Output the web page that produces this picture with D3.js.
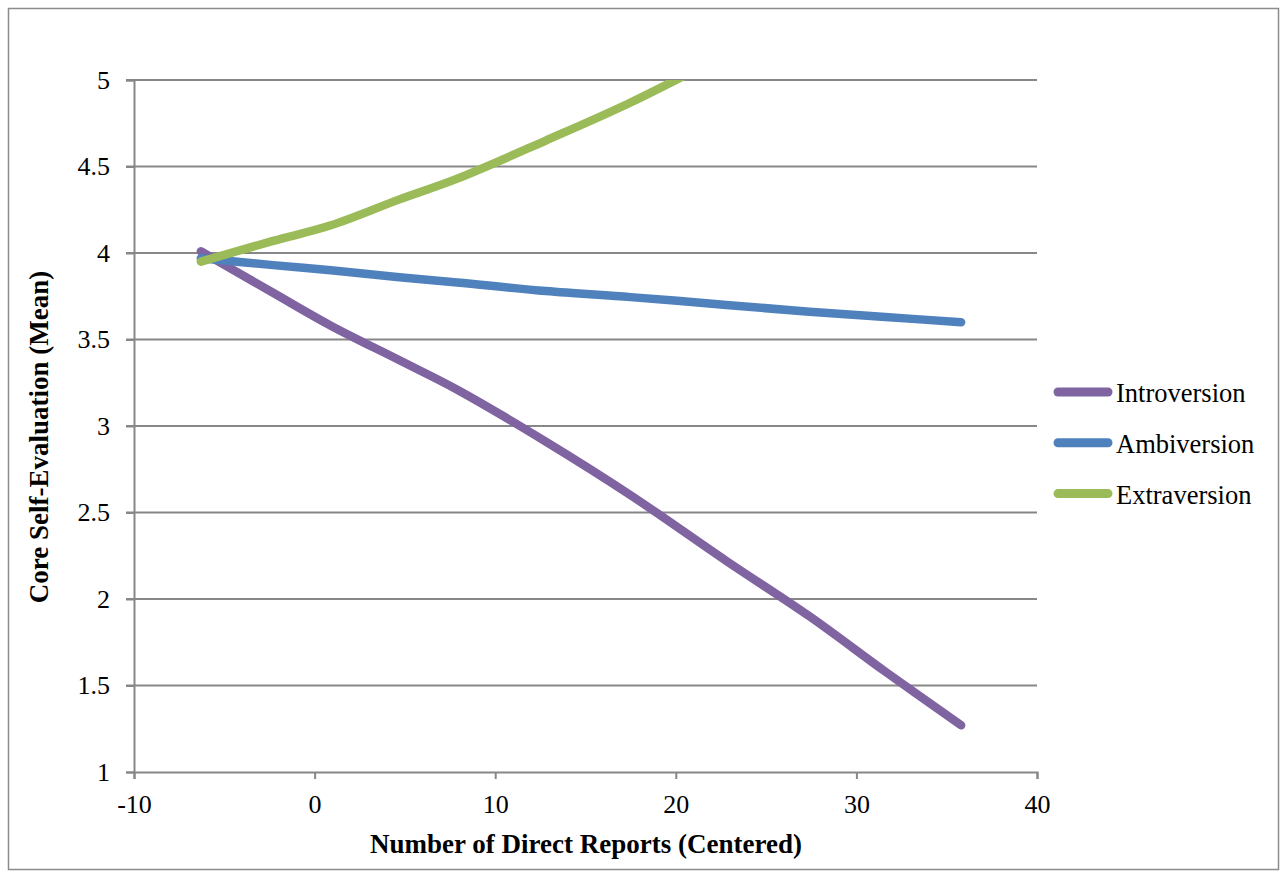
<!DOCTYPE html>
<html>
<head>
<meta charset="utf-8">
<script src="https://cdn.jsdelivr.net/npm/d3@7"></script>
<style>
html,body{margin:0;padding:0;background:#fff;}
svg{display:block;}
text{font-family:"Liberation Serif","Times New Roman",serif;fill:#000;}
</style>
</head>
<body>
<svg id="chart" width="1286" height="871"></svg>
<script>
// ---- data ----
const xValues = [-6.3, -2.3, 0.9, 4.7, 7.9, 12.8, 17.5, 22.8, 27.4, 31.6, 35.8];
const introversion = [4.01, 3.77, 3.58, 3.38, 3.21, 2.91, 2.60, 2.22, 1.90, 1.58, 1.27];
const ambiversion  = [3.97, 3.93, 3.90, 3.86, 3.83, 3.78, 3.745, 3.70, 3.66, 3.63, 3.60];
const extraversion = [3.95, 4.07, 4.16, 4.31, 4.43, 4.65, 4.87, 5.15, 5.40, 5.65, 5.90];
const seriesNames = ["Introversion", "Ambiversion", "Extraversion"];
const seriesColors = ["#8064A2", "#4F81BD", "#9BBB59"];
const xTicks = [-10, 0, 10, 20, 30, 40];
const yTicks = [1, 1.5, 2, 2.5, 3, 3.5, 4, 4.5, 5];
const xTitle = "Number of Direct Reports (Centered)";
const yTitle = "Core Self-Evaluation (Mean)";

const seriesData = [introversion, ambiversion, extraversion];

(function () {
const svg = d3.select("#chart");
const pLeft = 134, pRight = 1037, pTop = 80, pBottom = 772;
const x = d3.scaleLinear().domain([-10, 40]).range([pLeft, pRight]);
const y = d3.scaleLinear().domain([1, 5]).range([pBottom, pTop]);
const gridColor = "#878787";

// outer border
svg.append("rect").attr("x", 8.5).attr("y", 8.5).attr("width", 1270).attr("height", 861)
  .attr("fill", "none").attr("stroke", "#8c8c8c").attr("stroke-width", 1.5);

// gridlines
svg.append("g").selectAll("line").data(yTicks.filter(d => d !== 1)).join("line")
  .attr("x1", pLeft - 8).attr("x2", pRight)
  .attr("y1", d => y(d)).attr("y2", d => y(d))
  .attr("stroke", gridColor).attr("stroke-width", 2);

// y axis
const yAxis = d3.axisLeft(y).tickValues(yTicks).tickSize(8).tickPadding(16)
  .tickFormat(d => String(d));
const gy = svg.append("g").attr("transform", `translate(${pLeft},0)`).call(yAxis);
gy.select(".domain").attr("stroke", gridColor).attr("stroke-width", 2);
gy.selectAll(".tick line").attr("stroke", gridColor).attr("stroke-width", 2);
gy.selectAll(".tick text").attr("font-size", 26).attr("font-family", "Liberation Serif").attr("fill", "#000");

// x axis
const xAxis = d3.axisBottom(x).tickValues(xTicks).tickSize(7).tickPadding(16)
  .tickFormat(d => String(d));
const gx = svg.append("g").attr("transform", `translate(0,${pBottom})`).call(xAxis);
gx.select(".domain").attr("stroke", gridColor).attr("stroke-width", 2);
gx.selectAll(".tick line").attr("stroke", gridColor).attr("stroke-width", 2);
gx.selectAll(".tick text").attr("font-size", 26).attr("font-family", "Liberation Serif").attr("fill", "#000");

// clip
svg.append("clipPath").attr("id", "plotClip").append("rect")
  .attr("x", pLeft - 10).attr("y", pTop).attr("width", pRight - pLeft + 20).attr("height", pBottom - pTop + 10);

// lines
const line = d3.line().x(d => x(d[0])).y(d => y(d[1])).curve(d3.curveCatmullRom.alpha(0.5));
const gLines = svg.append("g").attr("clip-path", "url(#plotClip)");
seriesData.forEach((vals, i) => {
  gLines.append("path")
    .datum(xValues.map((xv, j) => [xv, vals[j]]))
    .attr("d", line)
    .attr("fill", "none")
    .attr("stroke", seriesColors[i])
    .attr("stroke-width", 8.5)
    .attr("stroke-linecap", "round")
    .attr("stroke-linejoin", "round");
});

// legend
const legend = svg.append("g");
seriesNames.forEach((name, i) => {
  const ly = 392 + i * 50.8;
  legend.append("line").attr("x1", 1058).attr("x2", 1108).attr("y1", ly).attr("y2", ly)
    .attr("stroke", seriesColors[i]).attr("stroke-width", 9).attr("stroke-linecap", "round");
  legend.append("text").attr("x", 1116).attr("y", ly + 10).attr("font-size", 26.5).text(name);
});

// axis titles
svg.append("text").attr("x", 586).attr("y", 853).attr("text-anchor", "middle")
  .attr("font-size", 27).attr("font-weight", "bold").text(xTitle);
svg.append("text").attr("transform", "translate(48,437) rotate(-90)").attr("text-anchor", "middle")
  .attr("font-size", 27).attr("font-weight", "bold").text(yTitle);
})();
</script>
</body>
</html>
